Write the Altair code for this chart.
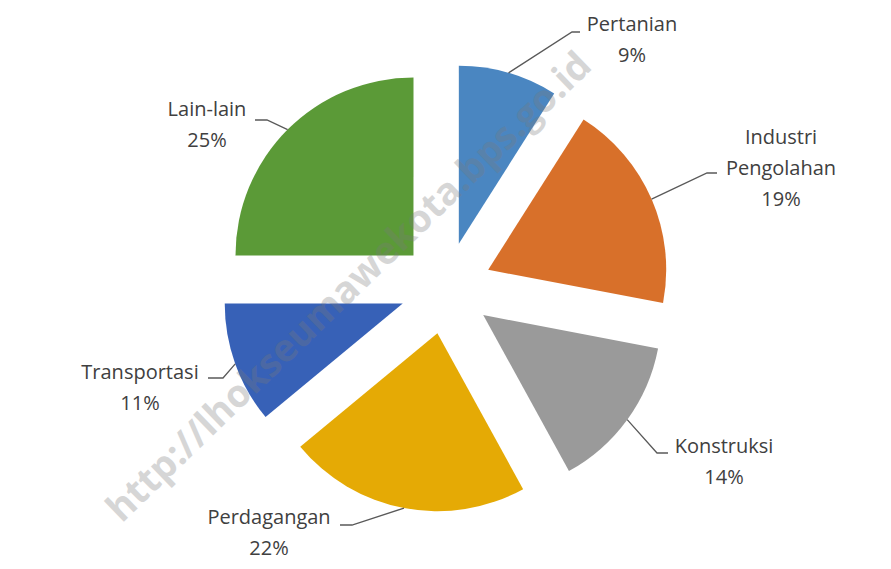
import math
import altair as alt
import pandas as pd

# ---- data ----
categories = ["Pertanian", "Industri Pengolahan", "Konstruksi", "Perdagangan", "Transportasi", "Lain-lain"]
shares = [9, 19, 14, 22, 11, 25]
colors = ["#4a86c1", "#d8702a", "#9a9a9a", "#e5aa05", "#3761b7", "#5b9a37"]
watermark = "http://lhokseumawekota.bps.go.id"

# ---- layout (pixels, relative to the pie centre) ----
W, H = 875, 553
CX, CY = 438, 280
R = 178
EXPLODE = 46
LINE_H = 31
label_pos = [(186, -263), (335, -150), (278, 159), (-177, 230), (-306, 85), (-239, -178)]
elbow = [(126, -256), (261, -115), (211, 165), (-94, 237), (-223, 90), (-179, -168)]
tail = [(134, -256), (271, -115), (222, 165), (-106, 237), (-238, 90), (-191, -168)]
wm_pos = (-96, 0)

total = sum(shares)
slice_rows, leader_rows, text_rows = [], [], []
cum = 0
for i, (cat, v) in enumerate(zip(categories, shares)):
    start = cum
    end = cum + v
    cum = end
    mid = (start + v / 2) / total * 2 * math.pi
    ox = EXPLODE * math.sin(mid)
    oy = -EXPLODE * math.cos(mid)
    slice_rows.append(dict(category=cat, start=start, end=end, ox=ox, oy=oy))
    ax = ox + R * math.sin(mid)
    ay = oy - R * math.cos(mid)
    leader_rows += [
        dict(category=cat, seq=0, x=ax, y=ay),
        dict(category=cat, seq=1, x=elbow[i][0], y=elbow[i][1]),
        dict(category=cat, seq=2, x=tail[i][0], y=tail[i][1]),
    ]
    lines = cat.split(" ") + [f"{v}%"]
    for j, t in enumerate(lines):
        text_rows.append(dict(category=cat, text=t, x=label_pos[i][0], y=label_pos[i][1] + j * LINE_H))

slices = pd.DataFrame(slice_rows)
leaders = pd.DataFrame(leader_rows)
texts = pd.DataFrame(text_rows)
wm = pd.DataFrame([dict(text=watermark, x=wm_pos[0], y=wm_pos[1])])

xs = alt.Scale(domain=[-CX, W - CX], nice=False, zero=False)
ys = alt.Scale(domain=[-CY, H - CY], nice=False, zero=False, reverse=True)

arcs = alt.Chart(slices).mark_arc(radius=R).encode(
    x=alt.X("ox:Q", scale=xs, axis=None),
    y=alt.Y("oy:Q", scale=ys, axis=None),
    theta=alt.Theta("start:Q", scale=alt.Scale(domain=[0, total], range=[0, 2 * math.pi]), stack=False),
    theta2="end:Q",
    color=alt.Color("category:N", scale=alt.Scale(domain=categories, range=colors), legend=None),
)

wmark = alt.Chart(wm).mark_text(
    angle=316, font="Open Sans", fontSize=38, fontWeight="bold", color="#7a7a7a", opacity=0.3,
    align="center", baseline="middle",
).encode(
    x=alt.X("x:Q", scale=xs, axis=None),
    y=alt.Y("y:Q", scale=ys, axis=None),
    text="text:N",
)

lead = alt.Chart(leaders).mark_line(color="#595959", strokeWidth=1.3).encode(
    x=alt.X("x:Q", scale=xs, axis=None),
    y=alt.Y("y:Q", scale=ys, axis=None),
    detail="category:N",
    order="seq:O",
)

labels = alt.Chart(texts).mark_text(
    font="Open Sans", fontSize=20, color="#404040", align="center", baseline="middle",
).encode(
    x=alt.X("x:Q", scale=xs, axis=None),
    y=alt.Y("y:Q", scale=ys, axis=None),
    text="text:N",
)

chart = alt.layer(arcs, wmark, lead, labels).properties(
    width=W, height=H,
    autosize=alt.AutoSizeParams(type="fit", contains="padding"),
    padding=0,
    background="white",
).configure_view(stroke=None)

chart.save("out.html", embed_options={"renderer": "svg", "actions": False})
